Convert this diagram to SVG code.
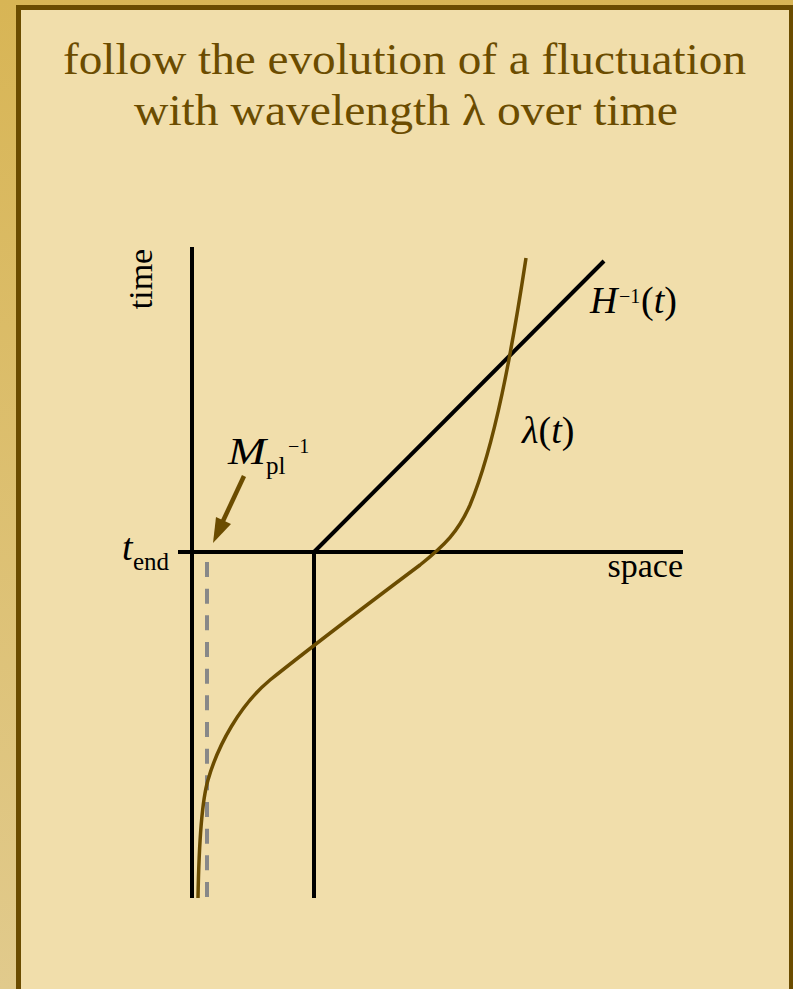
<svg xmlns="http://www.w3.org/2000/svg" width="793" height="989" viewBox="0 0 793 989">
  <defs>
    <linearGradient id="bg" x1="0" y1="0" x2="0" y2="1">
      <stop offset="0" stop-color="#d8b555"/>
      <stop offset="1" stop-color="#e1ca8c"/>
    </linearGradient>
  </defs>
  <style>
    .ax { stroke: #000; stroke-width: 4; fill: none; }
    .brown { stroke: #6b4c00; fill: none; }
    .lbl { font-family: "Liberation Serif", serif; fill: #000; }
    .it { font-style: italic; }
    .title { font-family: "Liberation Serif", serif; font-size: 44px; fill: #6b4c00; text-anchor: middle; }
  </style>
  <rect x="0" y="0" width="793" height="989" fill="url(#bg)"/>
  <rect x="18.5" y="7.5" width="773" height="1000" fill="#f1deab" stroke="#6b4c00" stroke-width="5"/>

  <g id="title">
    <text class="title" x="404.5" y="74" textLength="683" lengthAdjust="spacingAndGlyphs">follow the evolution of a fluctuation</text>
    <text class="title" x="406" y="125" textLength="544" lengthAdjust="spacingAndGlyphs">with wavelength λ over time</text>
  </g>

  <g id="connectors">
    <line id="time-axis" class="ax" x1="192" y1="247" x2="192" y2="898"/>
    <line id="space-axis" class="ax" x1="178" y1="552" x2="683" y2="552"/>
    <line id="hubble-vertical" class="ax" x1="314" y1="552" x2="314" y2="898"/>
    <line id="hubble-diagonal" class="ax" x1="314" y1="552" x2="604" y2="261"/>
    <line id="planck-dashed" x1="207" y1="562" x2="207" y2="898" stroke="#888888" stroke-width="4" stroke-dasharray="15 11.67"/>
    <path id="lambda-curve" class="brown" stroke-width="3.5" d="M526,258 C512,350 495,445 470,505 C458,532 445,545 420,565 C380,595 320,640 270,680 C240,705 218,745 208,780 C203,797 199,840 198,898"/>
    <g id="planck-arrow">
      <line class="brown" stroke-width="4.5" x1="244" y1="476" x2="223" y2="521"/>
      <polygon points="213,543 216,517 231,524" fill="#6b4c00"/>
    </g>
  </g>

  <g id="label-time">
    <text class="lbl" font-size="34" text-anchor="middle" transform="translate(152,279) rotate(-90)">time</text>
  </g>
  <g id="label-space">
    <text class="lbl" font-size="34" x="683" y="577" text-anchor="end">space</text>
  </g>
  <g id="label-tend">
    <text class="lbl it" font-size="38" x="122" y="560">t</text>
    <text class="lbl" font-size="25" x="133" y="570">end</text>
  </g>
  <g id="label-mpl">
    <text class="lbl it" font-size="38" x="228" y="464" textLength="38" lengthAdjust="spacingAndGlyphs">M</text>
    <text class="lbl" font-size="25" x="266" y="474">pl</text>
    <text class="lbl" font-size="20" x="288" y="453">−1</text>
  </g>
  <g id="label-hinv">
    <text class="lbl it" font-size="38" x="590" y="313">H</text>
    <text class="lbl" font-size="20" x="619" y="303">−1</text>
    <text class="lbl" font-size="38" x="641" y="313">(<tspan class="it">t</tspan>)</text>
  </g>
  <g id="label-lambda">
    <text class="lbl" font-size="38" x="522" y="443"><tspan class="it">λ</tspan>(<tspan class="it">t</tspan>)</text>
  </g>
</svg>
